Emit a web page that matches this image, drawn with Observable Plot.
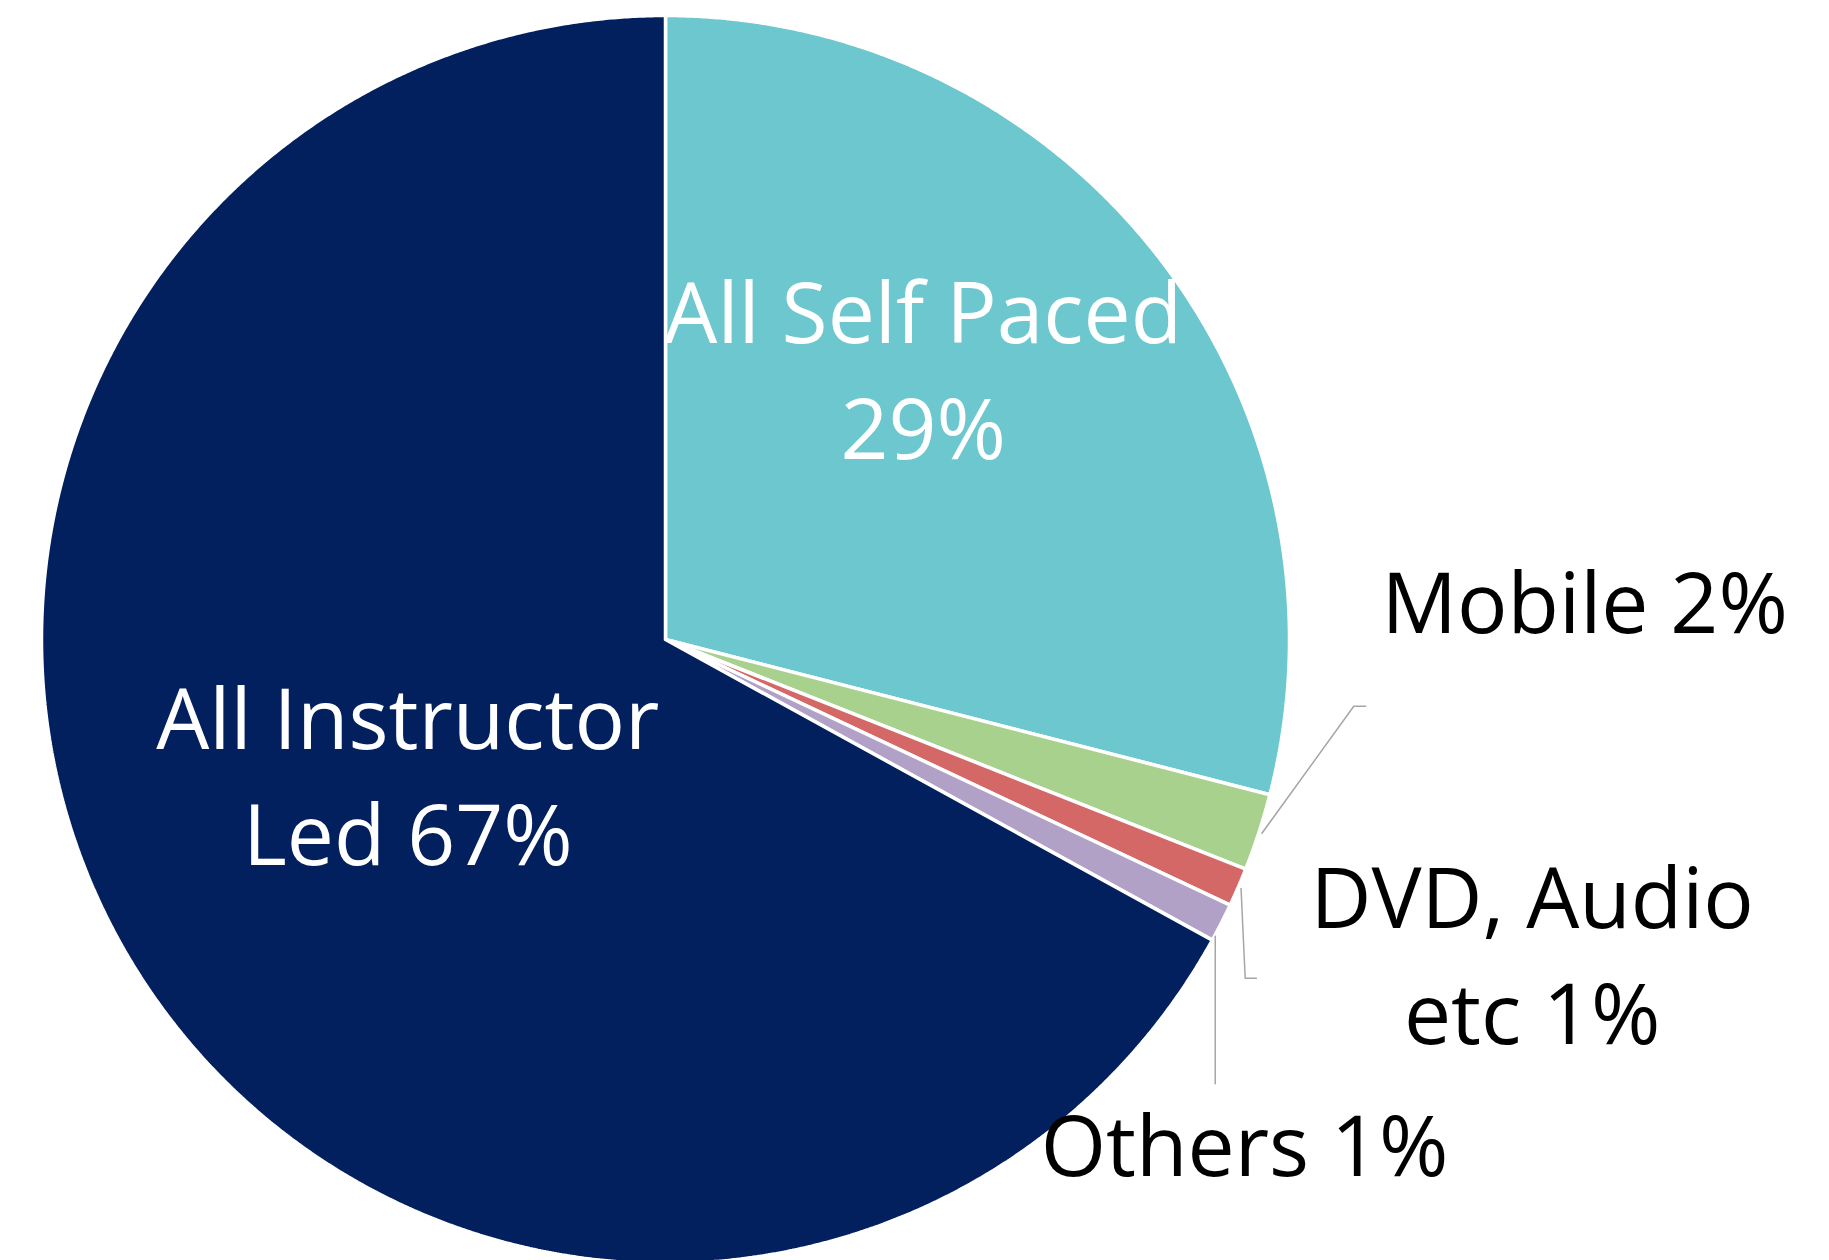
<!DOCTYPE html>
<html>
<head>
<meta charset="utf-8">
<script src="https://cdn.jsdelivr.net/npm/d3@7"></script>
<script src="https://cdn.jsdelivr.net/npm/@observablehq/plot@0.6"></script>
<style>
  html, body { margin: 0; padding: 0; background: #ffffff; }
  #chart svg { display: block; }
</style>
</head>
<body>
<div id="chart"></div>
<script>
// ---- Data ----
const categories = ["All Self Paced", "Mobile", "DVD, Audio etc", "Others", "All Instructor Led"];
const shares = [29, 2, 1, 1, 67];
const labelTexts = ["All Self Paced\n29%", "Mobile 2%", "DVD, Audio\netc 1%", "Others 1%", "All Instructor\nLed 67%"];

// ---- Styles ----
const sliceColors = ["#6CC7CE", "#A9D18E", "#D46866", "#B2A1C7", "#021F5E"];
const labelInside = [true, false, false, false, true];

// ---- Layout (unit = pie radius, origin = pie centre, y up) ----
const W = 1829, H = 1260, CX = 665, CY = 639, R = 624;
const labelLayout = {
  "All Self Paced":     {x: 0.413, y: 0.290},
  "Mobile":             {x: 1.473, y: 0.010},
  "DVD, Audio etc":     {x: 1.389, y: -0.649},
  "Others":             {x: 0.928, y: -0.859},
  "All Instructor Led": {x: -0.413, y: -0.361}
};
// leader start: "mid" = slice mid-angle on the rim, "vertical" = rim point directly above the first elbow
const leaderLayout = {
  "Mobile":         {start: "mid", elbows: [[1.103, -0.107], [1.122, -0.107]]},
  "DVD, Audio etc": {start: "mid", elbows: [[0.929, -0.543], [0.947, -0.543]]},
  "Others":         {start: "vertical", elbows: [[0.881, -0.712]]}
};
const FONT = "'Open Sans', 'Noto Sans', sans-serif";
const FONT_SIZE = 84;
const LINE_PX = 116;

// ---- Build geometry from data ----
const rows = categories.map((c, i) => ({category: c, share: shares[i], label: labelTexts[i], inside: labelInside[i]}));
const arcs = d3.pie().sort(null).value(d => d.share)(rows);

const slicePoints = [];
for (const a of arcs) {
  const c = a.data.category;
  slicePoints.push({category: c, x: 0, y: 0});
  const n = Math.max(2, Math.ceil((a.endAngle - a.startAngle) / (Math.PI / 720)));
  for (let k = 0; k <= n; ++k) {
    const t = a.startAngle + (a.endAngle - a.startAngle) * k / n;
    slicePoints.push({category: c, x: Math.sin(t), y: Math.cos(t)});
  }
  slicePoints.push({category: c, x: 0, y: 0});
}

const leaderPoints = [];
for (const a of arcs) {
  const c = a.data.category;
  const L = leaderLayout[c];
  if (!L) continue;
  if (L.start === "vertical") {
    const ex = L.elbows[0][0];
    leaderPoints.push({category: c, x: ex, y: -Math.sqrt(1 - ex * ex) * 1.005});
  } else {
    const m = (a.startAngle + a.endAngle) / 2;
    leaderPoints.push({category: c, x: Math.sin(m) * 1.005, y: Math.cos(m) * 1.005});
  }
  for (const [ex, ey] of L.elbows) leaderPoints.push({category: c, x: ex, y: ey});
}

const labelRows = rows.map(r => ({...r, x: labelLayout[r.category].x, y: labelLayout[r.category].y}));

const textOpts = {
  x: "x", y: "y", text: "label",
  fontSize: FONT_SIZE, fontFamily: FONT, lineAnchor: "bottom",
  lineHeight: LINE_PX / FONT_SIZE, textAnchor: "middle"
};

const chart = Plot.plot({
  width: W,
  height: H,
  margin: 0,
  style: {background: "#ffffff", fontFamily: FONT},
  x: {domain: [-CX / R, (W - CX) / R], axis: null},
  y: {domain: [-(H - CY) / R, CY / R], axis: null},
  color: {domain: categories, range: sliceColors},
  marks: [
    Plot.line(slicePoints, {
      x: "x", y: "y", z: "category", fill: "category",
      stroke: "#ffffff", strokeWidth: 3.5, strokeLinejoin: "miter", curve: "linear"
    }),
    Plot.line(leaderPoints, {
      x: "x", y: "y", z: "category", stroke: "#A6A6A6", strokeWidth: 1.5, curve: "linear"
    }),
    Plot.text(labelRows.filter(d => d.inside), {...textOpts, fill: "#ffffff"}),
    Plot.text(labelRows.filter(d => !d.inside), {...textOpts, fill: "#000000"})
  ]
});
document.getElementById("chart").appendChild(chart);
</script>
</body>
</html>
